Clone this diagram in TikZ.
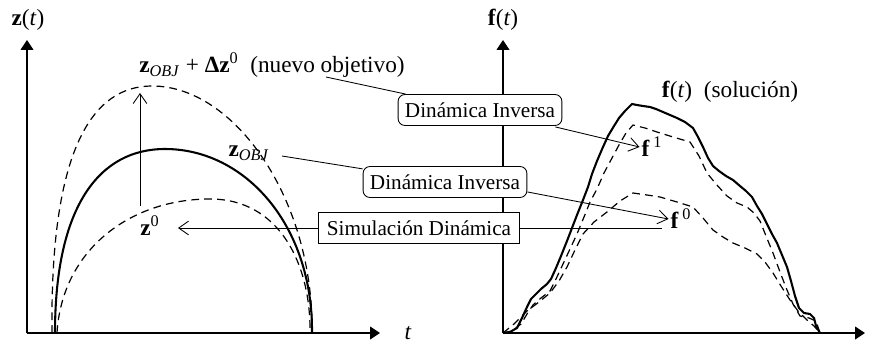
\documentclass[tikz,border=0pt]{standalone}
\usepackage{fontspec}
\setmainfont{Liberation Serif}
\usetikzlibrary{calc,positioning,arrows.meta}
\newcommand{\axisarrowstyle}{-{Triangle[length=2mm,width=2.6mm]}}
\newcommand{\openarrowstyle}{-{Straight Barb[length=2mm,width=2.8mm]}}

\begin{document}
\begin{tikzpicture}[
    x=0.0204cm, y=-0.0204cm,
    font=\fontsize{12.3}{14}\selectfont,
    axis/.style={\axisarrowstyle, line width=0.6pt},
    lead/.style={line width=0.5pt},
    open/.style={\openarrowstyle, line width=0.5pt},
    goal/.style={line width=1.2pt, line join=round},
    iter/.style={line width=0.7pt, dash pattern=on 4.5pt off 3pt, line join=round},
    lbl/.style={font=\fontsize{13.5}{16}\selectfont, inner sep=1pt},
    invbox/.style={draw, fill=white, rounded corners=4pt, line width=0.5pt, minimum height=18pt, inner xsep=4pt},
    simbox/.style={draw, fill=white, line width=0.5pt, minimum height=18pt, inner xsep=5pt}
]
  \useasboundingbox (0,0) rectangle (886,345);

  % ejes
  \coordinate (zorig) at (27,333);
  \coordinate (forig) at (503,333);
  \draw[axis] (zorig) -- (27,40);
  \draw[axis] (zorig) -- (380,333);
  \draw[axis] (forig) -- (503,40);
  \draw[axis] (forig) -- (865,333);
  \node[lbl] (zaxis) at (28,20) {\textbf{z}(\textit{t})};
  \node[lbl] (faxis) at (503,20) {\textbf{f}(\textit{t})};
  \node[lbl] (taxis) at (408,333) {\textit{t}};

  % trayectorias
  \draw[iter] (52,333) .. controls (50,150) and (92,86) .. (152,86)
              .. controls (235,86) and (314,200) .. (312,333);
  \draw[goal] (55,333) .. controls (55,205) and (100,149) .. (165,149)
              .. controls (245,149) and (313,225) .. (312,333);
  \draw[iter] (57,333) .. controls (62,250) and (130,199) .. (210,199)
              .. controls (280,199) and (311,265) .. (310,333);

  % fuerzas
  \draw[goal] plot coordinates {(503,333) (510,332) (517,328) (522,318) (527,307)
    (531,299) (537,293) (541,289) (547,284) (551,279) (556,268) (561,256)
    (567,241) (572,228) (577,215) (583,200) (588,187) (592,174) (597,161)
    (603,147) (608,136) (614,126) (619,118) (625,111) (632,104) (637,105)
    (643,106) (650,107) (656,109) (663,112) (670,115) (677,118) (685,122)
    (693,128) (698,137) (703,147) (708,158) (713,166) (719,171) (726,176)
    (733,180) (740,186) (746,191) (752,197) (757,206) (762,214) (767,224)
    (772,234) (777,243) (782,255) (787,267) (791,281) (795,296) (799,308)
    (804,313) (810,314) (814,318) (816,326) (820,333)};
  \draw[iter] plot coordinates {(503,333) (512,331) (521,324) (527,314) (533,305)
    (541,298) (550,291) (556,279) (563,264) (570,249) (577,234) (584,217)
    (590,202) (597,189) (604,173) (612,158) (619,145) (626,133) (633,125)
    (645,128) (657,132) (673,137) (690,142) (699,156) (707,173) (716,184)
    (727,196) (737,203) (747,207) (754,213) (760,221) (766,236) (773,253)
    (780,272) (787,290) (793,304) (800,316) (809,318) (816,321) (818,327) (820,333)};
  \draw[iter] plot coordinates {(503,333) (514,324) (527,311) (539,302) (550,293)
    (559,281) (567,267) (575,250) (583,234) (594,222) (607,212) (620,201)
    (633,193) (647,195) (660,197) (677,202) (693,207) (703,218) (713,230)
    (723,237) (733,243) (745,248) (757,254) (765,262) (773,273) (781,286)
    (790,300) (798,311) (807,320) (814,326) (820,333)};

  % etiquetas
  \node[lbl] (znew) at (272,65) {\textbf{z}\textsubscript{\textit{OBJ}} + \textbf{Δz}\textsuperscript{0}\ \ (nuevo objetivo)};
  \node[lbl] (zobj) at (249,153) {\textbf{z}\textsubscript{\textit{OBJ}}};
  \node[lbl] (zzero) at (150,226) {\textbf{z}\textsuperscript{0}};
  \node[lbl] (fsol) at (730,92) {\textbf{f}(\textit{t})\ \ (solución)};
  \node[lbl] (fone) at (652,147) {\textbf{f}\,\textsuperscript{1}};
  \node[lbl] (fzero) at (681,219) {\textbf{f}\,\textsuperscript{0}};

  % cajas
  \node[invbox] (invup) at (480,110) {Dinámica Inversa};
  \node[invbox] (invlow) at (445,182) {Dinámica Inversa};
  \node[simbox] (sim) at (419,228) {Simulación Dinámica};

  \coordinate (nuevoleg) at (326,77);
  \coordinate (zobjleg) at (282,156);
  \coordinate (simend) at (662,228);
  \coordinate (dzbot) at (140,206);
  \coordinate (dztop) at (140,93);

  \draw[lead] (nuevoleg) -- (invup);
  \draw[lead] (zobjleg) -- (invlow);
  \draw[open] ($(invup.south east)+(-7,1)$) -- (fone.west);
  \draw[open] ($(invlow.south east)+(0,-6)$) -- (fzero.west);
  \draw[open] (sim.west) -- (178,228);
  \draw[lead] (sim.east) -- (simend);
  \draw[open] (dzbot) -- (dztop);
\end{tikzpicture}
\end{document}
